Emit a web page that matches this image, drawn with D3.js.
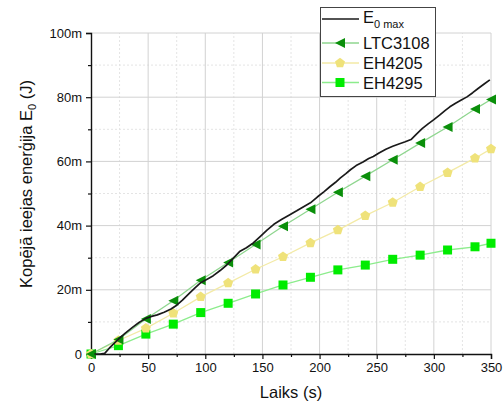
<!DOCTYPE html>
<html>
<head>
<meta charset="utf-8">
<script src="https://cdn.jsdelivr.net/npm/d3@7"></script>
<style>
  html, body { margin: 0; padding: 0; background: #fff; }
  svg { display: block; font-family: "Liberation Sans", Arial, sans-serif; }
</style>
</head>
<body>
<svg id="chart" width="503" height="404"></svg>
<script>
// Sample times (s) for the converter series
const times = [0, 24, 48, 72, 96, 120, 144, 168, 192, 216, 240, 264, 288, 312, 336, 350];
// Accumulated input energy per converter (mJ)
const ltc3108 = [0, 4.5, 10.9, 16.6, 23.0, 28.5, 34.1, 39.8, 45.1, 50.4, 55.4, 60.5, 65.7, 70.7, 76.3, 79.3];
const eh4205  = [0, 4.2, 8.0, 12.7, 17.8, 22.1, 26.4, 30.3, 34.6, 38.6, 43.1, 47.2, 52.1, 56.5, 61.0, 63.9];
const eh4295  = [0, 2.6, 6.2, 9.3, 12.9, 15.8, 18.7, 21.5, 23.9, 26.2, 27.7, 29.5, 30.8, 32.4, 33.4, 34.5];
// Maximum available input energy E0 max, measured trace (s, mJ)
const e0Time = [3, 8, 12, 16, 20, 24, 30, 36, 42, 48, 53, 58, 64, 70, 75, 80, 86, 91, 96, 102, 107, 113, 119, 125, 130, 136, 142, 148, 154, 160, 167, 174, 180, 186, 192, 198, 204, 209, 214, 218, 223, 227, 232, 238, 243, 247, 252, 258, 264, 270, 275, 280, 285, 290, 295, 300, 305, 310, 314, 319, 324, 329, 334, 339, 344, 349];
const e0Max  = [0, 0, 0.2, 1.8, 3.2, 4.6, 6.5, 8.2, 9.8, 11.1, 11.7, 12.2, 13.0, 14.0, 15.2, 16.8, 18.9, 20.6, 22.2, 23.4, 24.4, 26.0, 27.8, 30.0, 31.9, 33.1, 34.6, 36.6, 38.6, 40.4, 42.0, 43.4, 44.6, 45.9, 47.1, 48.9, 50.6, 52.1, 53.5, 54.8, 56.2, 57.4, 58.7, 59.8, 60.9, 61.5, 62.6, 63.8, 64.7, 65.5, 66.1, 66.8, 68.6, 70.3, 71.7, 73.0, 74.4, 75.9, 77.0, 78.1, 79.1, 80.1, 81.4, 82.8, 84.1, 85.4];
// Axis ticks
const xTicks = [0, 50, 100, 150, 200, 250, 300, 350];
const xMinor = [25, 75, 125, 175, 225, 275, 325];
const yTicks = [0, 20, 40, 60, 80, 100];
const yMinor = [10, 30, 50, 70, 90];

const svg = d3.select("#chart");
const margin = { left: 91, right: 12, top: 33, bottom: 50 };
const W = 503, H = 404;
const x = d3.scaleLinear().domain([0, 350]).range([margin.left, W - margin.right]);
const y = d3.scaleLinear().domain([0, 100]).range([H - margin.bottom, margin.top]);

// grid
const grid = svg.append("g");
grid.selectAll(".gxm").data(xMinor).enter().append("line")
  .attr("x1", d => x(d)).attr("x2", d => x(d)).attr("y1", y(0)).attr("y2", y(100))
  .attr("stroke", "#e4e4e4").attr("stroke-dasharray", "2,2");
grid.selectAll(".gym").data(yMinor).enter().append("line")
  .attr("x1", x(0)).attr("x2", x(350)).attr("y1", d => y(d)).attr("y2", d => y(d))
  .attr("stroke", "#e4e4e4").attr("stroke-dasharray", "2,2");
grid.selectAll(".gx").data(xTicks.slice(1)).enter().append("line")
  .attr("x1", d => x(d)).attr("x2", d => x(d)).attr("y1", y(0)).attr("y2", y(100))
  .attr("stroke", "#d2d2d2");
grid.selectAll(".gy").data(yTicks.slice(1)).enter().append("line")
  .attr("x1", x(0)).attr("x2", x(350)).attr("y1", d => y(d)).attr("y2", d => y(d))
  .attr("stroke", "#d2d2d2");

// axes
const fmt = d => d === 0 ? "0" : d + "m";
const xAxis = svg.append("g").attr("transform", `translate(0,${y(0)})`)
  .call(d3.axisBottom(x).tickValues(xTicks).tickSize(5).tickPadding(4));
svg.append("g").attr("transform", `translate(0,${y(0)})`)
  .call(d3.axisBottom(x).tickValues(xMinor).tickSize(3).tickFormat(""))
  .select(".domain").remove();
const yAxis = svg.append("g").attr("transform", `translate(${x(0)},0)`)
  .call(d3.axisLeft(y).tickValues(yTicks).tickSize(5).tickPadding(4).tickFormat(fmt));
svg.append("g").attr("transform", `translate(${x(0)},0)`)
  .call(d3.axisLeft(y).tickValues(yMinor).tickSize(3).tickFormat(""))
  .select(".domain").remove();
svg.selectAll(".domain").attr("stroke", "#111").attr("stroke-width", 1.4);
svg.selectAll(".tick line").attr("stroke", "#111").attr("stroke-width", 1.2);
svg.selectAll(".tick text").attr("font-size", 13).attr("fill", "#111")
  .attr("font-family", "Liberation Sans, Arial, sans-serif");

// axis titles
svg.append("text").attr("x", (x(0) + x(350)) / 2).attr("y", 398)
  .attr("text-anchor", "middle").attr("font-size", 16.5).attr("fill", "#111").text("Laiks (s)");
const yt = svg.append("text").attr("transform", `translate(32,${184}) rotate(-90)`)
  .attr("text-anchor", "middle").attr("font-size", 16.5).attr("fill", "#111");
yt.append("tspan").text("Kopējā ieejas enerģija E");
yt.append("tspan").attr("font-size", 11).attr("dy", 4).text("0");
yt.append("tspan").attr("dy", -4).text(" (J)");

// series
const series = [
  { name: "LTC3108", vals: ltc3108, line: "#8fd68f", fill: "#0a8f0a", shape: "tri", size: 10 },
  { name: "EH4205", vals: eh4205, line: "#f3eaa6", fill: "#efe27a", shape: "pent", size: 10 },
  { name: "EH4295", vals: eh4295, line: "#8cec8c", fill: "#00ec00", shape: "sq", size: 9 }
];
const lineGen = d3.line().x(d => x(d[0])).y(d => y(d[1]));

function marker(g, shape, cx, cy, s, fill) {
  const r = s / 2;
  if (shape === "tri") {
    g.append("path").attr("d", `M${cx - r},${cy} L${cx + r},${cy - r} L${cx + r},${cy + r} Z`).attr("fill", fill);
  } else if (shape === "sq") {
    g.append("rect").attr("x", cx - r).attr("y", cy - r).attr("width", s).attr("height", s).attr("fill", fill);
  } else {
    const pts = d3.range(5).map(i => {
      const a = -Math.PI / 2 + i * 2 * Math.PI / 5;
      return [cx + r * 1.05 * Math.cos(a), cy + r * 1.05 * Math.sin(a)];
    });
    g.append("path").attr("d", "M" + pts.map(p => p.join(",")).join("L") + "Z").attr("fill", fill);
  }
}

const plot = svg.append("g");
series.slice().reverse().forEach(s => {
  const pts = times.map((t, i) => [t, s.vals[i]]);
  plot.append("path").attr("d", lineGen(pts)).attr("fill", "none").attr("stroke", s.line).attr("stroke-width", 1.3);
});
series.slice().reverse().forEach(s => {
  const g = plot.append("g");
  times.forEach((t, i) => marker(g, s.shape, x(t), y(s.vals[i]), s.size, s.fill));
});
plot.append("path").attr("d", lineGen(e0Time.map((t, i) => [t, e0Max[i]])))
  .attr("fill", "none").attr("stroke", "#1a1a1a").attr("stroke-width", 1.7).attr("stroke-linejoin", "round");

// legend
const lg = svg.append("g");
lg.append("rect").attr("x", 320.5).attr("y", 7.5).attr("width", 115).attr("height", 89)
  .attr("fill", "#fff").attr("stroke", "#444").attr("stroke-width", 1);
const rowsY = [19, 43, 63, 82.5];
lg.append("line").attr("x1", 322).attr("x2", 359).attr("y1", rowsY[0]).attr("y2", rowsY[0])
  .attr("stroke", "#1a1a1a").attr("stroke-width", 1.7);
const t0 = lg.append("text").attr("x", 363).attr("y", rowsY[0] + 4).attr("font-size", 16.5).attr("fill", "#111");
t0.append("tspan").text("E");
t0.append("tspan").attr("font-size", 11).attr("dy", 5).text("0 max");
series.forEach((s, i) => {
  const yy = rowsY[i + 1];
  lg.append("line").attr("x1", 322).attr("x2", 359).attr("y1", yy).attr("y2", yy)
    .attr("stroke", s.line).attr("stroke-width", 1.3);
  marker(lg, s.shape, 340, yy, s.size, s.fill);
  lg.append("text").attr("x", 363).attr("y", yy + 6).attr("font-size", 16.5).attr("fill", "#111").text(s.name);
});
</script>
</body>
</html>
